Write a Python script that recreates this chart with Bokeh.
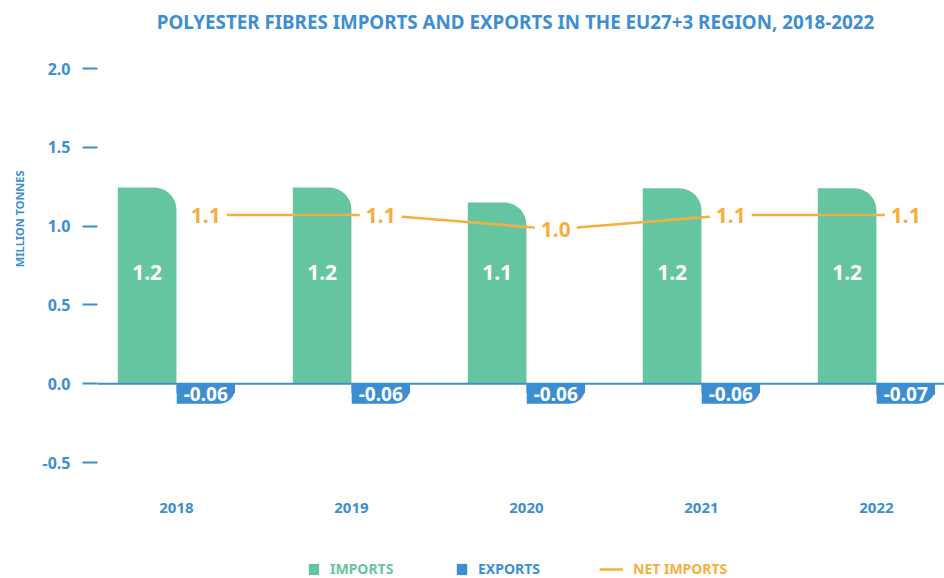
from bokeh.plotting import figure
from bokeh.models import (ColumnDataSource, Range1d, FixedTicker, Span, Legend,
                          LegendItem, Title, Label, NumeralTickFormatter)
from bokeh.transform import dodge
from bokeh.core.properties import value
from bokeh.embed import file_html
from bokeh.resources import INLINE

# ---- data -------------------------------------------------------------
years = [2018, 2019, 2020, 2021, 2022]
imports = [1.245, 1.245, 1.149, 1.24, 1.24]
exports = [-0.06, -0.06, -0.06, -0.06, -0.07]
net_imports = [1.07, 1.07, 0.98, 1.07, 1.07]
y_ticks = [-0.5, 0.0, 0.5, 1.0, 1.5, 2.0]
series_names = ["IMPORTS", "EXPORTS", "NET IMPORTS"]
title_text = "POLYESTER FIBRES IMPORTS AND EXPORTS IN THE EU27+3 REGION, 2018-2022"
y_title = "MILLION TONNES"

# ---- style ------------------------------------------------------------
GREEN = "#66c5a1"
BLUE = "#3d8ed1"
ORANGE = "#f4b03e"
FONT = "Noto Sans"
W = 0.335

src = ColumnDataSource(dict(
    year=years,
    imports=imports,
    exports=exports,
    net=net_imports,
    imp_lbl=[f"{v:.1f}" for v in imports],
    exp_lbl=[f"{v:.2f}" for v in exports],
    net_lbl=[f"{v:.1f}" for v in net_imports],
))

p = figure(width=944, height=578, title=None,
           x_range=Range1d(2017.549, 2022.389), y_range=Range1d(-1.236, 2.4315),
           output_backend="svg", toolbar_location=None,
           min_border_left=97, min_border_right=0,
           min_border_top=0, min_border_bottom=0)
p.outline_line_color = None
p.xgrid.visible = False
p.ygrid.visible = False

# chart title (drawn inside the canvas, top centre)
p.add_layout(Label(x=418, y=557, x_units="screen", y_units="screen",
                   text=title_text, text_align="center",
                   text_baseline="middle", text_font=FONT,
                   text_font_size="18.8px", text_font_style="bold",
                   text_color=BLUE))

# y title as side title
p.add_layout(Title(text=y_title, align="right", offset=170, standoff=22,
                   vertical_align="top",
                   text_font=FONT, text_font_size="11px",
                   text_font_style="bold", text_color=BLUE), "left")

# axes
yax = p.yaxis[0]
yax.ticker = FixedTicker(ticks=y_ticks)
yax.formatter = NumeralTickFormatter(format="0.0")
yax.axis_line_color = None
yax.major_tick_out = 15
yax.major_tick_in = 0
yax.major_tick_line_color = BLUE
yax.major_tick_line_width = 2
yax.minor_tick_line_color = None
yax.major_label_standoff = 12
yax.major_label_text_font = FONT
yax.major_label_text_font_size = "16px"
yax.major_label_text_font_style = "bold"
yax.major_label_text_color = BLUE

xax = p.xaxis[0]
xax.fixed_location = -0.5
xax.ticker = FixedTicker(ticks=years)
xax.axis_line_color = None
xax.major_tick_line_color = None
xax.minor_tick_line_color = None
xax.major_label_standoff = 34
xax.major_label_text_font = FONT
xax.major_label_text_font_size = "15px"
xax.major_label_text_font_style = "bold"
xax.major_label_text_color = BLUE

# bars
r_imp = p.vbar(x=dodge("year", -W / 2), top="imports", bottom=0, width=W,
               source=src, fill_color=GREEN, line_color=None,
               border_radius=(0, 22, 0, 0))
r_exp = p.vbar(x=dodge("year", W / 2), top=0, bottom="exports", width=W,
               source=src, fill_color=BLUE, line_color=None)

p.add_layout(Span(location=0, dimension="width", line_color=BLUE, line_width=2))

# net imports line
r_net = p.line(x=dodge("year", W / 2), y="net", source=src,
               line_color=ORANGE, line_width=2.5)

# labels
p.text(x=dodge("year", -W / 2), y=0.705, text="imp_lbl", source=src,
       text_align="center", text_baseline="middle", text_color="white",
       text_font=value(FONT), text_font_size="21px", text_font_style="bold")

p.text(x=dodge("year", W / 2), y=0, text="exp_lbl", source=src,
       text_align="center", text_baseline="top", text_color="white",
       text_font=value(FONT), text_font_size="19px", text_font_style="bold",
       background_fill_color=BLUE, padding=(7, 7, 3, 3),
       border_radius=(0, 0, 15, 0))

p.text(x=dodge("year", W / 2), y="net", text="net_lbl", source=src,
       text_align="center", text_baseline="middle", text_color=ORANGE,
       text_font=value(FONT), text_font_size="21px", text_font_style="bold",
       background_fill_color="white", padding=(6, 6, 0, 0))

# legends (one per item so each label gets its own colour)
specs = [(r_imp, series_names[0], GREEN, 210, 13),
         (r_exp, series_names[1], BLUE, 358, 13),
         (r_net, series_names[2], ORANGE, 502, 24)]
for rend, lbl, col, xoff, gw in specs:
    lg = Legend(items=[LegendItem(label=lbl, renderers=[rend])],
                location=(xoff, 0), orientation="horizontal",
                border_line_color=None, background_fill_alpha=0,
                padding=0, margin=0, spacing=0,
                label_text_color=col, label_text_font=FONT,
                label_text_font_size="14px", label_text_font_style="bold",
                glyph_width=gw, glyph_height=14, label_standoff=10,
                label_height=14)
    p.add_layout(lg, "center")

open("out.html", "w").write(file_html(p, INLINE))
